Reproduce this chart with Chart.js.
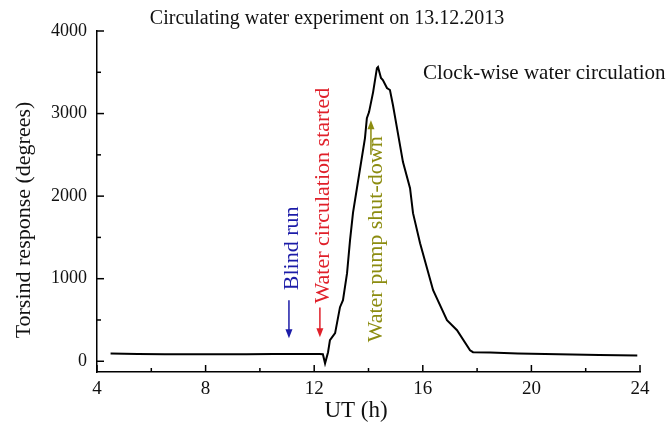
<!DOCTYPE html>
<html>
<head>
<meta charset="utf-8">
<script src="https://cdn.jsdelivr.net/npm/chart.js@4"></script>
<style>
  html, body { margin: 0; padding: 0; background: #fff; }
  #wrap { width: 670px; height: 427px; }
</style>
</head>
<body>
<div id="wrap"><canvas id="torsindChart" width="670" height="427"></canvas></div>
<script>
// values (UT hours vs torsind response in degrees)
const times = [4.5, 5.5, 6.5, 7.5, 8.5, 9.5, 10.5, 11.5, 12.2, 12.32, 12.4, 12.51, 12.58, 12.77, 12.95, 13.06,
  13.21, 13.32, 13.43, 13.6, 13.87, 13.94, 14.02, 14.17, 14.31, 14.35, 14.46, 14.53, 14.68, 14.79, 14.9,
  15.05, 15.27, 15.53, 15.64, 15.9, 16.38, 16.89, 17.26, 17.74, 17.85, 18.48, 19.5, 20.5, 21.5, 22.5, 23.9];
const torsion = [95, 88, 86, 85, 86, 85, 87, 88, 88, 85, -25, 110, 255, 340, 655, 740,
  1067, 1467, 1800, 2150, 2703, 2945, 3018, 3260, 3550, 3564, 3430, 3406, 3309, 3285, 3103,
  2824, 2412, 2097, 1794, 1430, 860, 497, 376, 133, 110, 105, 95, 88, 82, 76, 70];

const xTickValues = [4, 8, 12, 16, 20, 24];
const yTickValues = [0, 1000, 2000, 3000, 4000];

const serif = '"Liberation Serif", "DejaVu Serif", serif';

// notes drawn along the curve: [text, colour, textX, textBottomY, arrowX, arrowFromY, arrowToY]
const notes = [
  ["Blind run", "#1c1ca8", 11.2, 860, 11.07, 740, 280],
  ["Water circulation started", "#e0202a", 12.33, 700, 12.21, 650, 290],
  ["Water pump shut-down", "#8c8c10", 14.3, 230, 14.09, 2500, 2920]
];

// inside ticks, major + minor
const ticksPlugin = {
  id: "insideTicks",
  afterDraw(chart) {
    const c = chart.ctx, xs = chart.scales.x, ys = chart.scales.y;
    const area = chart.chartArea;
    c.save();
    c.strokeStyle = "#000";
    c.lineWidth = 1.5;
    for (let v = 4; v <= 24; v += 2) {
      const px = xs.getPixelForValue(v);
      const len = v % 4 === 0 ? 7 : 4;
      c.beginPath(); c.moveTo(px, area.bottom); c.lineTo(px, area.bottom - len); c.stroke();
    }
    for (let v = 0; v <= 4000; v += 500) {
      const py = ys.getPixelForValue(v);
      const len = v % 1000 === 0 ? 7 : 4;
      c.beginPath(); c.moveTo(area.left, py); c.lineTo(area.left + len, py); c.stroke();
    }
    c.restore();
  }
};

// titles and annotations
const textPlugin = {
  id: "texts",
  afterDraw(chart) {
    const c = chart.ctx, xs = chart.scales.x, ys = chart.scales.y;
    c.save();
    c.fillStyle = "#111";
    c.textBaseline = "middle";
    c.textAlign = "center";
    c.font = "20px " + serif;
    c.fillText("Circulating water experiment on 13.12.2013", 327, 19);
    c.font = "23px " + serif;
    c.fillText("UT (h)", 356, 411);
    c.font = "21px " + serif;
    c.textAlign = "left";
    c.fillText("Clock-wise water circulation", 423, 73);

    c.save();
    c.translate(24, 220);
    c.rotate(-Math.PI / 2);
    c.textAlign = "center";
    c.font = "22px " + serif;
    c.fillText("Torsind response (degrees)", 0, 0);
    c.restore();

    notes.forEach(([label, color, tx, ty, ax, a0, a1]) => {
      const px = xs.getPixelForValue(tx), py = ys.getPixelForValue(ty);
      c.save();
      c.fillStyle = color;
      c.translate(px, py);
      c.rotate(-Math.PI / 2);
      c.textAlign = "left";
      c.font = "22px " + serif;
      c.fillText(label, 0, 0);
      c.restore();

      const ax0 = xs.getPixelForValue(ax), y0 = ys.getPixelForValue(a0), y1 = ys.getPixelForValue(a1);
      const dir = y1 > y0 ? 1 : -1;
      c.strokeStyle = color;
      c.fillStyle = color;
      c.lineWidth = 1.5;
      c.beginPath(); c.moveTo(ax0, y0); c.lineTo(ax0, y1 - dir * 6); c.stroke();
      c.beginPath();
      c.moveTo(ax0, y1);
      c.lineTo(ax0 - 3.5, y1 - dir * 9);
      c.lineTo(ax0 + 3.5, y1 - dir * 9);
      c.closePath();
      c.fill();
    });
    c.restore();
  }
};

const ctx = document.getElementById("torsindChart").getContext("2d");
new Chart(ctx, {
  type: "line",
  data: {
    datasets: [{
      data: times.map((t, i) => ({ x: t, y: torsion[i] })),
      borderColor: "#000",
      borderWidth: 2,
      pointRadius: 0,
      tension: 0,
      fill: false
    }]
  },
  options: {
    responsive: false,
    animation: false,
    layout: { padding: { top: 31, right: 30, left: 0, bottom: 0 } },
    plugins: { legend: { display: false }, tooltip: { enabled: false } },
    scales: {
      x: {
        type: "linear",
        min: 4,
        max: 24,
        afterBuildTicks: s => { s.ticks = xTickValues.map(v => ({ value: v })); },
        afterFit: s => { s.height = 55; },
        grid: { display: false },
        border: { color: "#000", width: 1.5 },
        ticks: { color: "#111", padding: -2, font: { family: serif, size: 19 }, maxRotation: 0,
          callback: v => String(v) }
      },
      y: {
        min: -130,
        max: 4000,
        afterBuildTicks: s => { s.ticks = yTickValues.map(v => ({ value: v })); },
        afterFit: s => { s.width = 97; },
        grid: { display: false },
        border: { color: "#000", width: 1.5 },
        ticks: { color: "#111", padding: 2, font: { family: serif, size: 18 },
          callback: v => String(v) }
      }
    }
  },
  plugins: [ticksPlugin, textPlugin]
});
</script>
</body>
</html>
